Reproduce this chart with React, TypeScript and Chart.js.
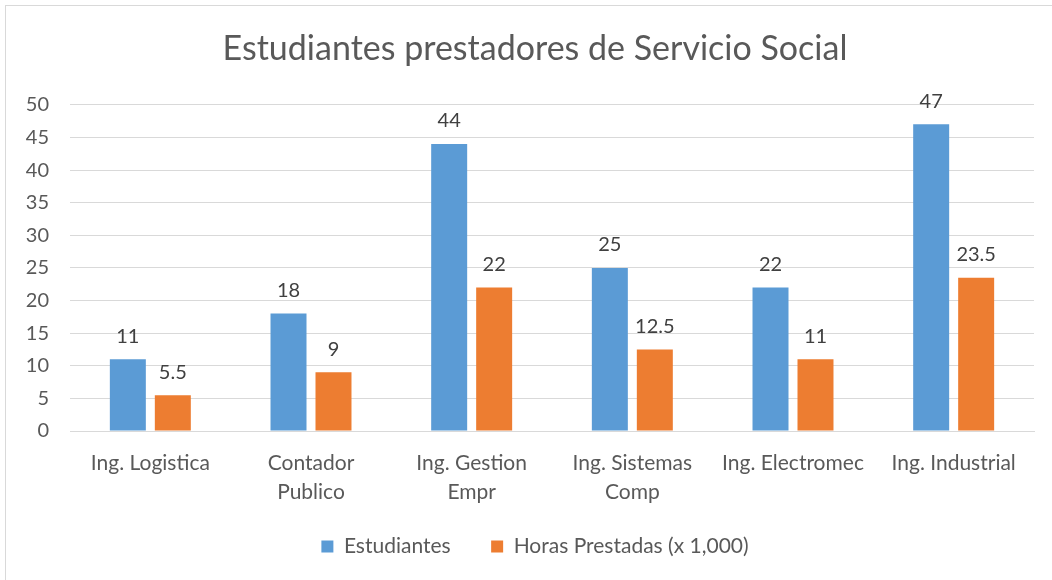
import React, { useEffect, useRef } from "react";
import { Chart, registerables } from "chart.js";

Chart.register(...registerables);

const categories: (string | string[])[] = [
  "Ing. Logistica",
  ["Contador", "Publico"],
  ["Ing. Gestion", "Empr"],
  ["Ing. Sistemas", "Comp"],
  "Ing. Electromec",
  "Ing. Industrial",
];
const estudiantes = [11, 18, 44, 25, 22, 47];
const horas = [5.5, 9, 22, 12.5, 11, 23.5];
const yTicks = [0, 5, 10, 15, 20, 25, 30, 35, 40, 45, 50];
const seriesNames = ["Estudiantes", "Horas Prestadas (x 1,000)"];
const seriesColors = ["#5B9BD5", "#ED7D31"];

const FONT = "Lato, 'Open Sans', sans-serif";

const dataLabels = {
  id: "dataLabels",
  afterDatasetsDraw(chart: any) {
    const ctx = chart.ctx;
    ctx.save();
    ctx.font = `20px ${FONT}`;
    ctx.fillStyle = "#404040";
    ctx.textAlign = "center";
    ctx.textBaseline = "middle";
    chart.data.datasets.forEach((ds: any, di: number) => {
      const meta = chart.getDatasetMeta(di);
      meta.data.forEach((bar: any, i: number) => {
        ctx.fillText(String(ds.data[i]), bar.x, bar.y - 23);
      });
    });
    ctx.restore();
  },
};

// shift the centred title and legend boxes slightly right, as in the reference
const shiftBlocks = {
  id: "shiftBlocks",
  afterLayout(chart: any) {
    if (chart.titleBlock) chart.titleBlock.left += 36;
    if (chart.legend) chart.legend.left += 36;
  },
};

export default function App() {
  const ref = useRef<HTMLCanvasElement>(null);
  useEffect(() => {
    document.body.style.margin = "0";
    const chart = new Chart(ref.current!, {
      type: "bar",
      data: {
        labels: categories,
        datasets: [
          {
            label: seriesNames[0],
            data: estudiantes,
            backgroundColor: seriesColors[0],
            categoryPercentage: 0.56,
            barPercentage: 0.8,
          },
          {
            label: seriesNames[1],
            data: horas,
            backgroundColor: seriesColors[1],
            categoryPercentage: 0.56,
            barPercentage: 0.8,
          },
        ],
      },
      options: {
        responsive: false,
        animation: false,
        layout: { padding: { left: 0, right: 18, top: 0, bottom: 13 } },
        plugins: {
          title: {
            display: true,
            text: "Estudiantes prestadores de Servicio Social",
            color: "#595959",
            font: { family: FONT, size: 34, weight: "normal" },
            padding: { top: 29, bottom: 35 },
          },
          legend: {
            position: "bottom",
            labels: {
              color: "#595959",
              font: { family: FONT, size: 21 },
              boxWidth: 12,
              boxHeight: 12,
              padding: 19,
              generateLabels(c: any) {
                const items = Chart.defaults.plugins.legend.labels.generateLabels(c);
                return items.map((it: any, i: number) => ({
                  ...it,
                  text: i === 0 ? it.text + "    " : it.text,
                  lineWidth: 0,
                }));
              },
            },
          },
          tooltip: { enabled: false },
        },
        scales: {
          x: {
            grid: { display: false },
            border: { display: true, color: "#d9d9d9" },
            ticks: {
              color: "#595959",
              font: { family: FONT, size: 21, lineHeight: 1.38 },
              maxRotation: 0,
              autoSkip: false,
              padding: 10,
            },
          },
          y: {
            min: 0,
            max: 50,
            afterFit(scale: any) {
              scale.width = 70;
            },
            afterBuildTicks(scale: any) {
              scale.ticks = yTicks.map((v) => ({ value: v }));
            },
            grid: { color: "#d9d9d9", drawTicks: false },
            border: { display: false },
            ticks: {
              color: "#595959",
              font: { family: FONT, size: 20 },
              padding: 21,
            },
          },
        },
      } as any,
      plugins: [dataLabels, shiftBlocks],
    });
    return () => chart.destroy();
  }, []);
  return (
    <div style={{ position: "relative", width: 1052, height: 580, background: "#fff" }}>
      <canvas ref={ref} width={1052} height={580} style={{ display: "block" }} />
      <div style={{ position: "absolute", left: 5, top: 5, right: 0, height: 1, background: "#d9d9d9" }} />
      <div style={{ position: "absolute", left: 5, top: 5, bottom: 0, width: 1, background: "#d9d9d9" }} />
    </div>
  );
}
